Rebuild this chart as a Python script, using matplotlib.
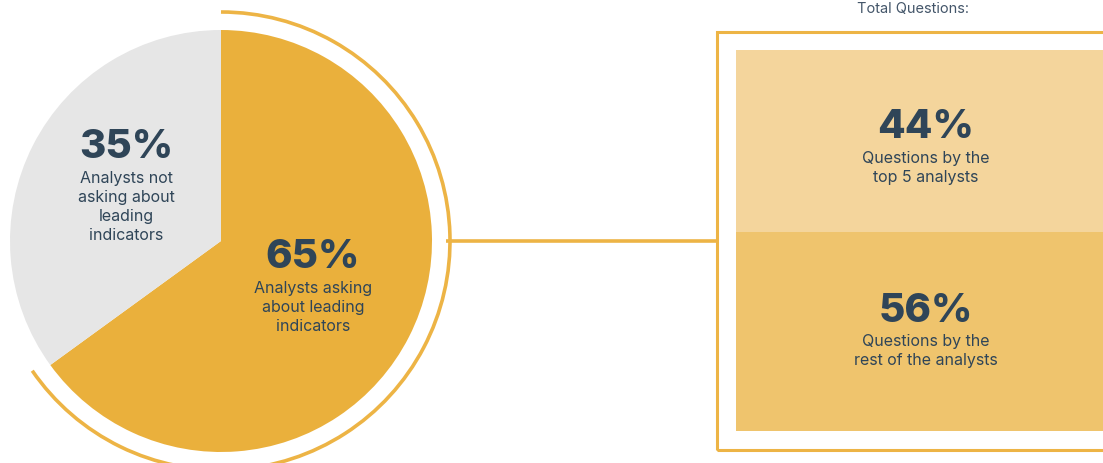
import matplotlib.pyplot as plt
from matplotlib.patches import Arc, Rectangle

# pie: share of analysts asking about leading indicators
pie_values = [65, 35]
pie_labels = ["Analysts asking\nabout leading\nindicators", "Analysts not\nasking about\nleading\nindicators"]
pie_colors = ["#EAB03C", "#E6E6E6"]

# question split
q_values = [44, 56]
q_labels = ["Questions by the\ntop 5 analysts", "Questions by the\nrest of the analysts"]
q_colors = ["#F4D59C", "#EFC46D"]

text_color = "#2F4558"
line_color = "#EDB445"
font = "Inter"

W, H = 1103, 464
fig = plt.figure(figsize=(W / 100, H / 100), dpi=100)
ax = fig.add_axes([0, 0, 1, 1])


def y(px):
    # pixel row (from top) to data y
    return H - px


cx, cy, r = 221, y(242), 211
ax.pie(pie_values, colors=pie_colors, startangle=90, counterclock=False,
       center=(cx, cy), radius=r, frame=True, wedgeprops=dict(linewidth=0))
ax.set_xlim(0, W)
ax.set_ylim(0, H)
ax.set_aspect("equal")
ax.axis("off")

# outer arc round the yellow slice
end_angle = 90 - pie_values[0] / 100 * 360 - 1.5
ax.add_patch(Arc((cx, cy), 2 * 229, 2 * 229, theta1=end_angle, theta2=90,
                 color=line_color, lw=2.6))

# connector
ax.plot([446, 717], [y(242), y(242)], color=line_color, lw=2.6, solid_capstyle="butt")

# box outline
ax.add_patch(Rectangle((717, y(451)), 420, 418, fill=False, ec=line_color, lw=2.2))
# panels
ax.add_patch(Rectangle((736, y(233)), 400, 182, color=q_colors[0], lw=0))
ax.add_patch(Rectangle((736, y(432)), 400, 199, color=q_colors[1], lw=0))

ax.text(913, y(9), "Total Questions:", ha="center", va="center", fontsize=10.5,
        color="#44566A", family=font)

big = dict(ha="center", va="center", fontsize=29, fontweight="heavy", color=text_color, family=font)
small = dict(ha="center", va="top", fontsize=11.5, color=text_color, family=font, linespacing=1.32)

# pie labels
ax.text(126, y(147), f"{pie_values[1]}%", **big)
ax.text(126, y(171), pie_labels[1], **small)
ax.text(313, y(257), f"{pie_values[0]}%", **big)
ax.text(313, y(281), pie_labels[0], **small)

# panel labels
ax.text(926, y(128), f"{q_values[0]}%", **big)
ax.text(926, y(151), q_labels[0], **small)
ax.text(926, y(311), f"{q_values[1]}%", **big)
ax.text(926, y(334), q_labels[1], **small)

fig.savefig("out.png", dpi=100)
